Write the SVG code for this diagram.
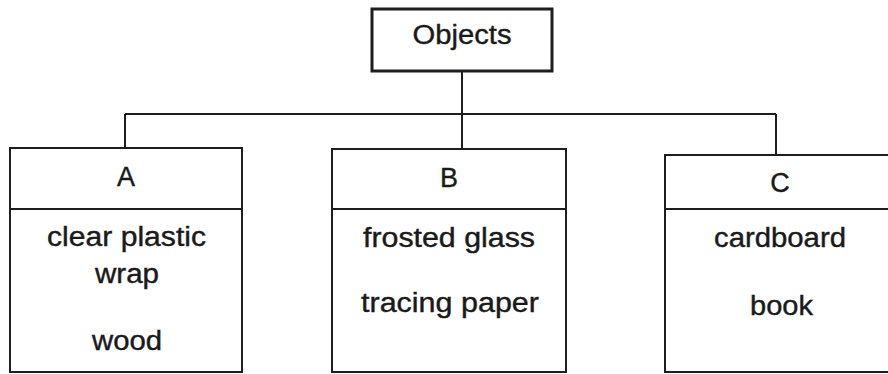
<svg xmlns="http://www.w3.org/2000/svg" width="888" height="374" viewBox="0 0 888 374">
<style>
.box{fill:#fff;stroke:#1e1e1e;stroke-width:2}
.conn{fill:none;stroke:#1e1e1e;stroke-width:2}
text{font-family:"Liberation Sans",Arial,sans-serif;font-size:27px;fill:#1a1a1a;stroke:#1a1a1a;stroke-width:0.4;text-anchor:middle}
</style>
<rect width="888" height="374" fill="#fff"/>
<g id="connectors">
<path class="conn" d="M125 114 H776"/>
<path class="conn" d="M462 71 V149"/>
<path class="conn" d="M125 114 V148"/>
<path class="conn" d="M776 114 V155"/>
</g>
<g id="objects">
<rect class="box" x="372" y="9" width="180" height="62" style="stroke-width:3"/>
<text x="462" y="44" textLength="99" lengthAdjust="spacingAndGlyphs">Objects</text>
</g>
<g id="A">
<rect class="box" x="10" y="148" width="232" height="224"/>
<line class="conn" x1="10" y1="209" x2="242" y2="209"/>
<text x="126" y="186">A</text>
<text x="126.5" y="246" textLength="159" lengthAdjust="spacingAndGlyphs">clear plastic</text>
<text x="127" y="283" textLength="64" lengthAdjust="spacingAndGlyphs">wrap</text>
<text x="127" y="350" textLength="70" lengthAdjust="spacingAndGlyphs">wood</text>
</g>
<g id="B">
<rect class="box" x="332" y="149" width="234" height="223"/>
<line class="conn" x1="332" y1="209" x2="566" y2="209"/>
<text x="449" y="187">B</text>
<text x="449" y="247" textLength="172" lengthAdjust="spacingAndGlyphs">frosted glass</text>
<text x="450" y="312" textLength="178" lengthAdjust="spacingAndGlyphs">tracing paper</text>
</g>
<g id="C">
<rect class="box" x="665" y="155" width="240" height="217"/>
<line class="conn" x1="665" y1="209" x2="905" y2="209"/>
<text x="780" y="192">C</text>
<text x="780" y="247" textLength="132" lengthAdjust="spacingAndGlyphs">cardboard</text>
<text x="781.5" y="315" textLength="63" lengthAdjust="spacingAndGlyphs">book</text>
</g>
</svg>
